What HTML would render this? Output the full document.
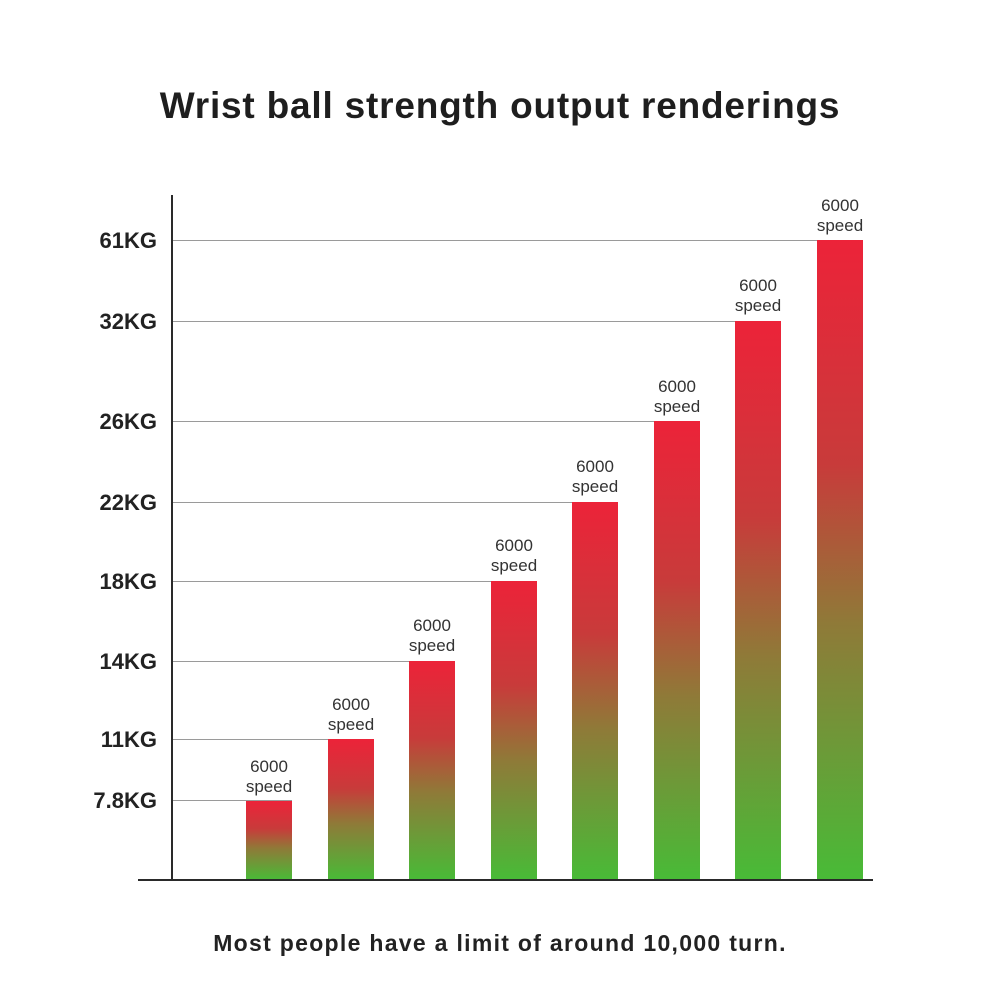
<!DOCTYPE html>
<html><head><meta charset="utf-8"><style>
html,body{margin:0;padding:0;background:#fff;}
svg{display:block;}
</style></head><body>
<svg width="1000" height="1000" viewBox="0 0 1000 1000" xmlns="http://www.w3.org/2000/svg" font-family="Liberation Sans, DejaVu Sans, sans-serif">
<defs>
<linearGradient id="g" x1="0" y1="0" x2="0" y2="1">
<stop offset="0" stop-color="#ec2339"/>
<stop offset="0.35" stop-color="#c83b3a"/>
<stop offset="0.6" stop-color="#8f7a38"/>
<stop offset="1" stop-color="#48bb37"/>
</linearGradient>
</defs>
<rect width="1000" height="1000" fill="#fff"/>
<text x="500" y="118" text-anchor="middle" font-size="37" font-weight="bold" letter-spacing="0.8" fill="#1e1e1e">Wrist ball strength output renderings</text>
<g stroke="#9a9a9a" stroke-width="1">
<line x1="172" y1="240.5" x2="863" y2="240.5"/>
<line x1="172" y1="321.5" x2="781" y2="321.5"/>
<line x1="172" y1="421.5" x2="700" y2="421.5"/>
<line x1="172" y1="502.5" x2="618" y2="502.5"/>
<line x1="172" y1="581.5" x2="537" y2="581.5"/>
<line x1="172" y1="661.5" x2="455" y2="661.5"/>
<line x1="172" y1="739.5" x2="374" y2="739.5"/>
<line x1="172" y1="800.5" x2="292" y2="800.5"/>
</g>
<g fill="url(#g)">
<rect x="246" y="801" width="46" height="79"/>
<rect x="328" y="739" width="46" height="141"/>
<rect x="409" y="661" width="46" height="219"/>
<rect x="491" y="581" width="46" height="299"/>
<rect x="572" y="502" width="46" height="378"/>
<rect x="654" y="421" width="46" height="459"/>
<rect x="735" y="321" width="46" height="559"/>
<rect x="817" y="240" width="46" height="640"/>
</g>
<line x1="172" y1="195" x2="172" y2="880" stroke="#2a2a2a" stroke-width="2"/>
<line x1="138" y1="880" x2="873" y2="880" stroke="#2a2a2a" stroke-width="2"/>
<g font-size="22" font-weight="bold" fill="#222" text-anchor="end">
<text x="157" y="248">61KG</text>
<text x="157" y="329">32KG</text>
<text x="157" y="429">26KG</text>
<text x="157" y="510">22KG</text>
<text x="157" y="589">18KG</text>
<text x="157" y="669">14KG</text>
<text x="157" y="747">11KG</text>
<text x="157" y="808">7.8KG</text>
</g>
<g font-size="17" fill="#333" text-anchor="middle">
<text x="269" y="772">6000</text><text x="269" y="792">speed</text>
<text x="351" y="710">6000</text><text x="351" y="730">speed</text>
<text x="432" y="631">6000</text><text x="432" y="651">speed</text>
<text x="514" y="551">6000</text><text x="514" y="571">speed</text>
<text x="595" y="472">6000</text><text x="595" y="492">speed</text>
<text x="677" y="392">6000</text><text x="677" y="412">speed</text>
<text x="758" y="291">6000</text><text x="758" y="311">speed</text>
<text x="840" y="211">6000</text><text x="840" y="231">speed</text>
</g>
<text x="500" y="951" text-anchor="middle" font-size="23" font-weight="bold" letter-spacing="1.3" fill="#222">Most people have a limit of around 10,000 turn.</text>
</svg>
</body></html>
